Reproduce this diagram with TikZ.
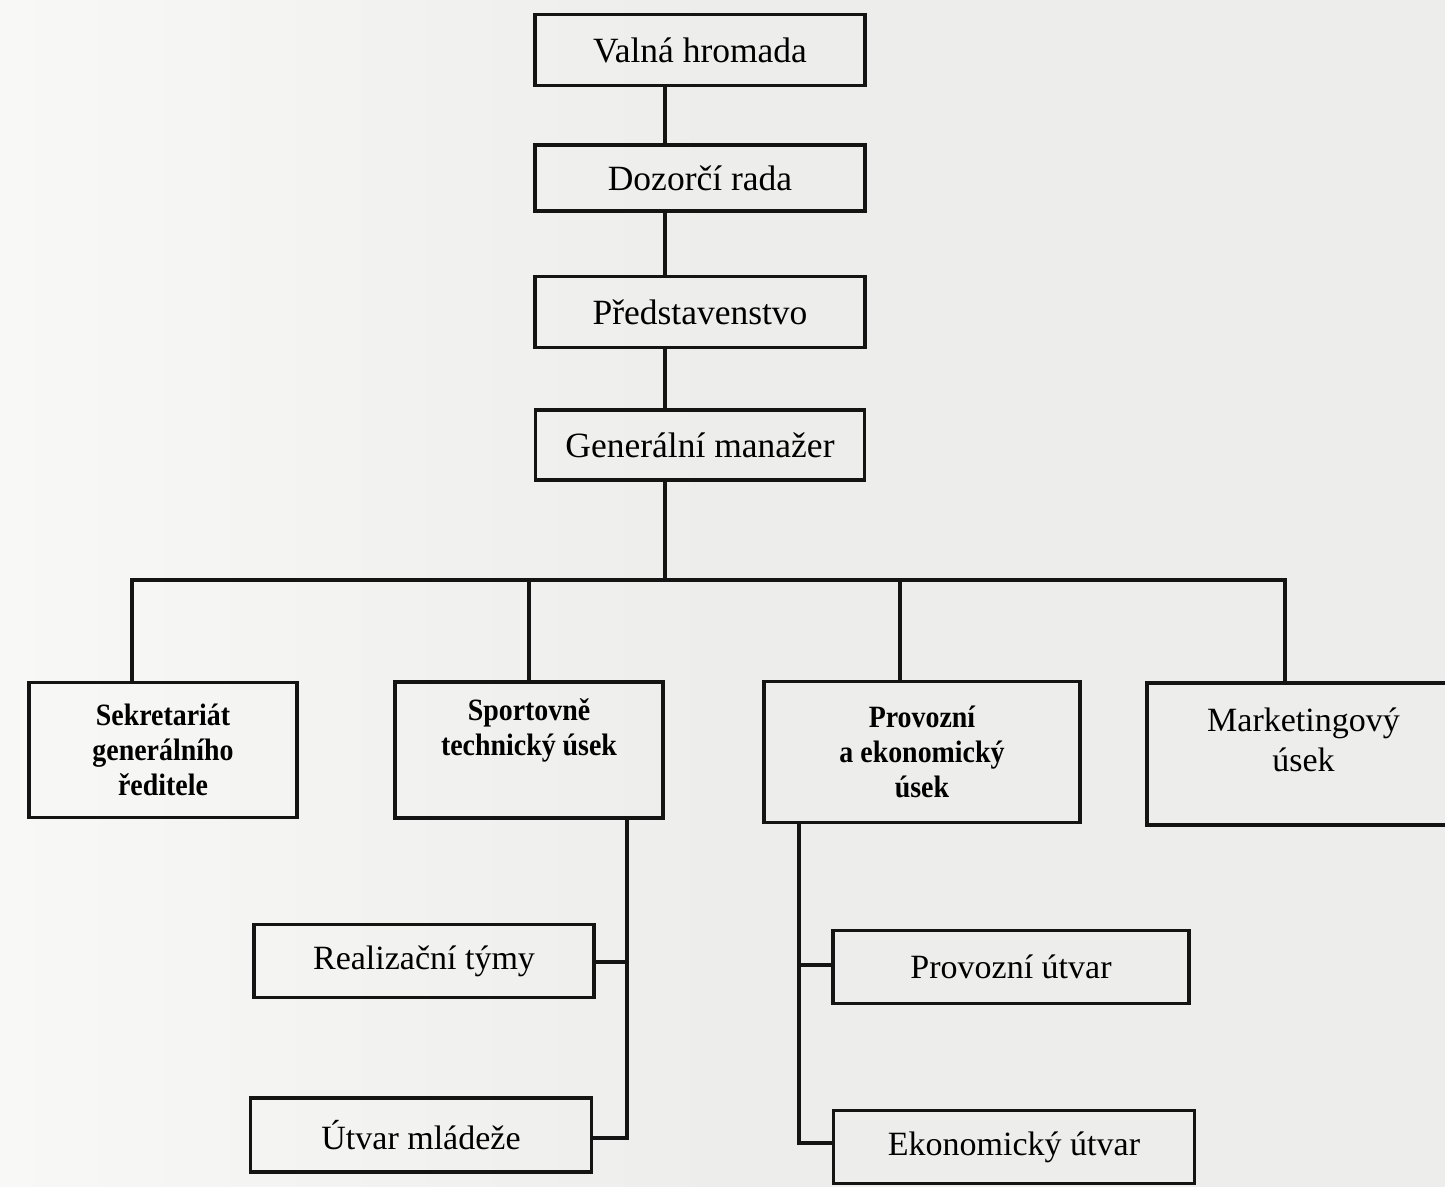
\documentclass[tikz,border=0pt]{standalone}
\usepackage{fontspec}
\setmainfont{Liberation Serif}
\newfontfamily\condbold[FakeStretch=0.9]{Liberation Serif}
\begin{document}
\begin{tikzpicture}[x=1pt,y=-1pt,
  ink/.style={draw=black!92, line width=3.7pt},
  unit/.style={ink, rectangle, inner sep=0pt, align=center, font=\fontsize{34}{40}\selectfont},
  head/.style={unit, font=\fontsize{35.5}{40}\selectfont},
  dept/.style={ink, rectangle, inner sep=0pt, align=center, font=\condbold\bfseries\fontsize{31}{35}\selectfont},
  link/.style={ink, line cap=rect}
]
\definecolor{paper}{RGB}{237,237,236}
\definecolor{paperlight}{RGB}{248,248,247}
% page background
\fill[left color=paperlight, right color=paper, middle color=paper] (0,0) rectangle (1445,1186);
\useasboundingbox (0,0) rectangle (1445,1186);

% management chain
\node[head, minimum width=330pt, minimum height=71pt] (valna) at (700,50) {Valná hromada};
\node[head, minimum width=330pt, minimum height=66pt] (dozor) at (700,178) {Dozorčí rada};
\node[head, minimum width=330pt, minimum height=71pt] (pred)  at (700,312) {Představenstvo};
\node[head, minimum width=329pt, minimum height=70pt] (gen)   at (700,445) {Generální manažer};

% departments
\node[dept, minimum width=268pt, minimum height=135pt] (sekr)  at (163,750) {Sekretariát\\generálního\\ředitele};
\node[dept, minimum width=268pt, minimum height=136pt] (sport) at (529,750) {Sportovně\\technický úsek\\\strut};
\node[dept, minimum width=316pt, minimum height=141pt] (prov)  at (922,752) {Provozní\\a ekonomický\\úsek};
\node[unit, minimum width=313pt, minimum height=142pt] (mark)  at (1303.5,754) {Marketingový\\úsek\\[-12pt]};

% sub-units
\node[unit, minimum width=340pt, minimum height=73pt] (real)  at (424,961)  {Realizační týmy};
\node[unit, minimum width=341pt, minimum height=74pt] (mlad)  at (421,1135) {Útvar mládeže};
\node[unit, minimum width=356pt, minimum height=73pt] (provu) at (1011,967) {Provozní útvar};
\node[unit, minimum width=361pt, minimum height=73pt] (ekon)  at (1014,1147) {Ekonomický útvar};

% trunk and horizontal bus
\coordinate (trunk) at (665,0);
\coordinate (busL) at (132,580);
\coordinate (busR) at (1285,580);
\draw[link] (valna.south -| trunk) -- (dozor.north -| trunk);
\draw[link] (dozor.south -| trunk) -- (pred.north -| trunk);
\draw[link] (pred.south -| trunk) -- (gen.north -| trunk);
\draw[link] (gen.south -| trunk) -- (busL -| trunk);
\draw[link] (busL) -- (busR);
\draw[link] (busL) -- (sekr.north -| busL);
\draw[link] (busL -| sport.north) -- (sport.north);
\draw[link] (900,580) -- (prov.north -| 900,0);
\draw[link] (busR) -- (mark.north -| busR);

% branch under the sports department
\coordinate (sb) at (627,0);
\coordinate (sbEnd) at (627,1138);
\draw[link] (sport.south -| sb) -- (sbEnd);
\draw[link] (real.east |- 0,962) -- (627,962);
\draw[link] (mlad.east |- sbEnd) -- (sbEnd);

% branch under the operations department
\coordinate (pb) at (799,0);
\coordinate (pbEnd) at (799,1143);
\draw[link] (prov.south -| pb) -- (pbEnd);
\draw[link] (799,965) -- (provu.west |- 0,965);
\draw[link] (pbEnd) -- (ekon.west |- pbEnd);
\end{tikzpicture}
\end{document}
